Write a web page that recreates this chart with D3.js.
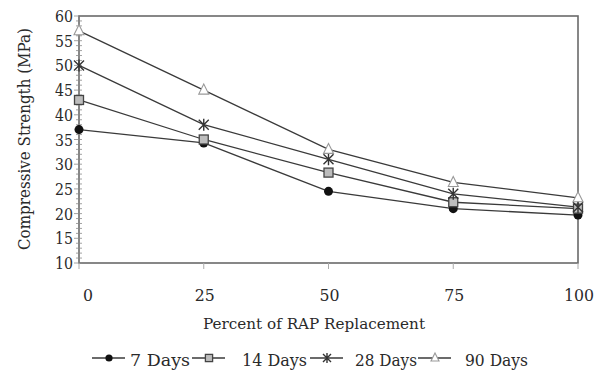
<!DOCTYPE html>
<html>
<head>
<meta charset="utf-8">
<script src="https://cdn.jsdelivr.net/npm/d3@7"></script>
<style>
  html, body { margin: 0; padding: 0; background: #fff; }
</style>
</head>
<body>
<svg id="chart" width="603" height="373"></svg>
<script>
// RAP replacement levels (%)
const replacement = [0, 25, 50, 75, 100];
// Compressive strength (MPa) per curing age
const days7  = [37, 34.3, 24.5, 21, 19.7];
const days14 = [43, 35, 28.3, 22.3, 21];
const days28 = [50, 38, 31, 24, 21.3];
const days90 = [57, 45, 33, 26.3, 23.2];
const seriesNames = ["7 Days", "14 Days", "28 Days", "90 Days"];
const yTicks = [10, 15, 20, 25, 30, 35, 40, 45, 50, 55, 60];
const xTicks = [0, 25, 50, 75, 100];

const series = [
  { name: seriesNames[0], values: days7,  marker: "circle" },
  { name: seriesNames[1], values: days14, marker: "square" },
  { name: seriesNames[2], values: days28, marker: "star" },
  { name: seriesNames[3], values: days90, marker: "triangle" }
];

const svg = d3.select("#chart");
const m = { left: 79, right: 578, top: 16, bottom: 263 };
const x = d3.scaleLinear().domain([0, 100]).range([m.left, m.right]);
const y = d3.scaleLinear().domain([10, 60]).range([m.bottom, m.top]);

function txt(sel, size) {
  return sel.style("font-family", "\"DejaVu Serif\", \"Liberation Serif\", serif")
    .attr("font-size", size)
    .attr("fill", "#2a2a2a")
    .attr("lengthAdjust", "spacingAndGlyphs");
}

// plot frame
svg.append("rect")
  .attr("x", m.left).attr("y", m.top)
  .attr("width", m.right - m.left).attr("height", m.bottom - m.top)
  .attr("fill", "none").attr("stroke", "#6a6a6a").attr("stroke-width", 1.6);

// y axis minor ticks
const minor = d3.range(10, 61, 1);
svg.append("g").selectAll("line").data(minor).join("line")
  .attr("x1", d => d % 5 === 0 ? m.left - 5 : m.left - 3)
  .attr("x2", m.left + 3)
  .attr("y1", d => y(d)).attr("y2", d => y(d))
  .attr("stroke", "#8a8a8a").attr("stroke-width", 0.8);

// y axis labels
svg.append("g").selectAll("text").data(yTicks).join("text")
  .call(txt, 16)
  .attr("x", m.left - 6).attr("y", d => y(d) + 6)
  .attr("text-anchor", "end")
  .attr("textLength", d => String(d).length * 9)
  .text(d => d);

// x axis ticks and labels
svg.append("g").selectAll("line").data(xTicks).join("line")
  .attr("x1", d => x(d)).attr("x2", d => x(d))
  .attr("y1", m.bottom).attr("y2", m.bottom + 6)
  .attr("stroke", "#aaa").attr("stroke-width", 1);

svg.append("g").selectAll("text").data(xTicks).join("text")
  .call(txt, 16)
  .attr("x", d => x(d) + (d === 0 ? 9 : 1)).attr("y", 301)
  .attr("text-anchor", "middle")
  .attr("textLength", d => String(d).length * 10)
  .text(d => d);

// axis titles
svg.append("text")
  .call(txt, 15)
  .attr("x", 314).attr("y", 329)
  .attr("text-anchor", "middle")
  .attr("textLength", 222)
  .text("Percent of RAP Replacement");

svg.append("text")
  .call(txt, 16)
  .attr("transform", "translate(30,139) rotate(-90)")
  .attr("text-anchor", "middle")
  .attr("textLength", 222)
  .text("Compressive Strength (MPa)");

// marker drawing
function drawMarker(g, type, cx, cy, k = 1) {
  if (type === "circle") {
    g.append("circle").attr("cx", cx).attr("cy", cy).attr("r", 4.5 * k)
      .attr("fill", "#111");
  } else if (type === "square") {
    const h = 4.5 * k;
    g.append("rect").attr("x", cx - h).attr("y", cy - h)
      .attr("width", 2 * h).attr("height", 2 * h)
      .attr("fill", "#bdbdbd").attr("stroke", "#444").attr("stroke-width", 1.3);
  } else if (type === "star") {
    const s = 5 * k;
    g.append("path")
      .attr("d", `M${cx - s},${cy - s}L${cx + s},${cy + s}M${cx - s},${cy + s}L${cx + s},${cy - s}M${cx},${cy - s - 1}L${cx},${cy + s + 1}`)
      .attr("stroke", "#333").attr("stroke-width", 1.4).attr("fill", "none");
  } else {
    const s = 5 * k;
    g.append("path")
      .attr("d", `M${cx},${cy - s - 1}L${cx + s},${cy + s - 1}L${cx - s},${cy + s - 1}Z`)
      .attr("fill", "#fff").attr("stroke", "#999").attr("stroke-width", 1.1);
  }
}

const line = d3.line().x((d, i) => x(replacement[i])).y(d => y(d));
const plot = svg.append("g");
series.forEach(s => {
  plot.append("path").datum(s.values)
    .attr("d", line)
    .attr("fill", "none").attr("stroke", "#3a3a3a").attr("stroke-width", 1.3);
});
series.forEach(s => {
  const g = plot.append("g");
  s.values.forEach((v, i) => drawMarker(g, s.marker, x(replacement[i]), y(v)));
});

// legend
const legendLine = [92, 192, 310, 418];
const legendText = [130, 242, 355, 465];
const legendWidth = [60, 65, 62, 63];
const legendY = 358;
series.forEach((s, i) => {
  const g = svg.append("g");
  const x0 = legendLine[i];
  g.append("line").attr("x1", x0).attr("x2", x0 + 33)
    .attr("y1", legendY).attr("y2", legendY)
    .attr("stroke", "#3a3a3a").attr("stroke-width", 1.3);
  drawMarker(g, s.marker, x0 + 17, legendY, 0.8);
  g.append("text")
    .call(txt, 16)
    .attr("x", legendText[i]).attr("y", legendY + 8)
    .attr("textLength", legendWidth[i])
    .text(s.name);
});
</script>
</body>
</html>
